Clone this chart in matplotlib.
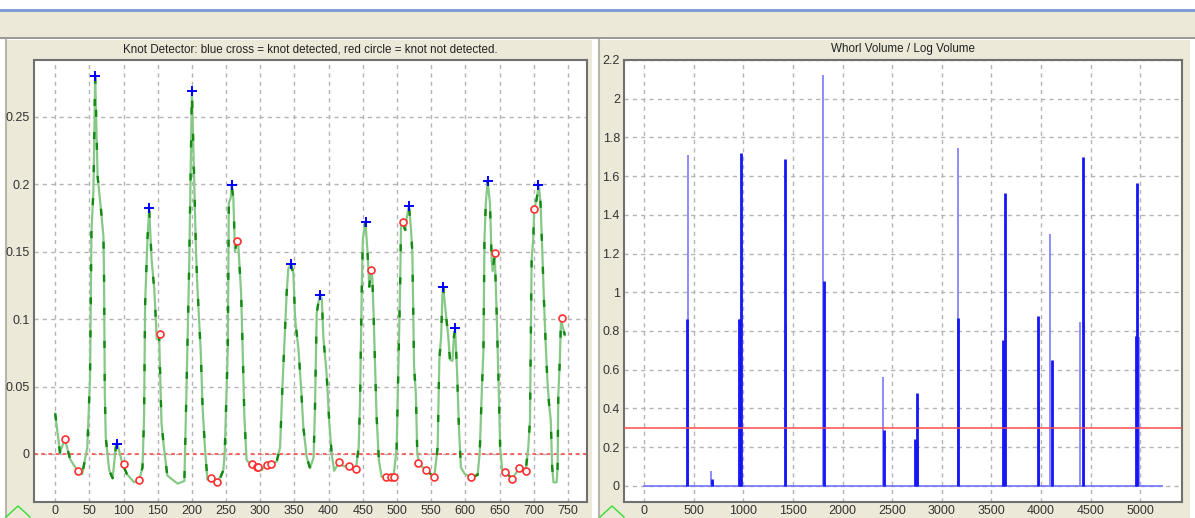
import matplotlib
matplotlib.use('Agg')
import matplotlib.pyplot as plt
from matplotlib.patches import Rectangle
from matplotlib.lines import Line2D

plt.rcParams['font.family'] = ['Liberation Sans', 'DejaVu Sans']

# ---- left chart: knot detector signal
sig_x = [0, 7, 14, 22, 32, 39.5, 47, 51, 53, 56, 58.5, 62, 67, 70.6, 71.5, 72.6, 74, 79, 84,
         88.7, 91, 98.5, 105, 115.5, 123, 127.7, 130, 131.6, 135, 137.5, 141, 145, 148.6, 152,
         155.5, 159, 164, 179, 189, 192.5, 196, 198.4, 200, 203, 206, 208, 213, 215.6, 219, 222.7,
         227.5, 236, 242, 246, 248, 252.5, 254, 257, 258, 260.6, 263, 265.6, 268, 272, 274, 276.8,
         280, 286.5, 294.6, 302, 309, 315, 324, 329, 332, 336, 338.6, 341, 344.6, 348.4, 351, 356,
         360, 363, 368, 372.8, 378, 380, 382.6, 385, 387.4, 390, 392.5, 397, 401, 404.4, 408,
         415.6, 421.5, 429.8, 440, 444, 446, 448.4, 450, 452, 454, 457, 459.5, 462, 464, 466, 470,
         473.5, 477.6, 482.5, 490, 495, 499.5, 502, 504.6, 506, 508, 512, 514.6, 517.5, 520.6,
         522.5, 525, 527.6, 529.7, 532.7, 542, 554.5, 559.5, 562, 564.6, 566.6, 567.7, 571.6, 575,
         577.5, 581, 583.4, 585, 588, 590.6, 593.5, 599.4, 610, 618, 621, 624, 626.5, 628, 630,
         632.6, 636, 638.5, 640, 643, 645.7, 649, 651, 654, 658, 668.6, 673, 680, 688.6, 692,
         694.6, 697, 699.5, 700.8, 704, 707.6, 710, 712.7, 715, 717.5, 720, 722.5, 725, 727, 729,
         733.6, 735, 736, 738.3, 740, 742.6, 745.6]
sig_y = [0.030, 0.001, 0.011, -0.004, -0.012, -0.015, 0.005, 0.057, 0.164, 0.196, 0.281, 0.206,
         0.181, 0.161, 0.129, 0.045, 0.012, -0.012, -0.018, 0.005, 0.0075, -0.0075, -0.015, -0.021,
         -0.019, -0.010, 0.027, 0.112, 0.159, 0.182, 0.144, 0.122, 0.085, 0.088, 0.023, 0.005,
         -0.016, -0.022, -0.020, 0.057, 0.139, 0.218, 0.269, 0.211, 0.150, 0.124, 0.075, 0.035,
         0.005, -0.019, -0.017, -0.0205, -0.017, -0.012, 0.001, 0.077, 0.186, 0.190, 0.1995,
         0.190, 0.150, 0.1575, 0.154, 0.119, 0.082, 0.027, -0.0045, -0.008, -0.011, -0.012,
         -0.0075, -0.0075, -0.0057, 0.005, 0.045, 0.090, 0.119, 0.137, 0.141, 0.134, 0.100,
         0.077, 0.047, 0.020, -0.0025, -0.0105, -0.0025, 0.033, 0.1045, 0.112, 0.1175, 0.115,
         0.085, 0.060, 0.023, 0.0005, -0.0125, -0.006, -0.009, -0.009, -0.0106, 0.005, 0.040,
         0.119, 0.159, 0.166, 0.171, 0.149, 0.124, 0.1365, 0.130, 0.100, 0.030, -0.0045, -0.017,
         -0.0168, -0.0168, -0.0168, 0.004, 0.062, 0.124, 0.171, 0.172, 0.166, 0.176, 0.184, 0.166,
         0.149, 0.065, 0.045, 0.0005, -0.0075, -0.012, -0.017, 0.005, 0.070, 0.087, 0.119, 0.123,
         0.104, 0.087, 0.070, 0.069, 0.087, 0.093, 0.060, 0.020, -0.010, -0.015, -0.0173, -0.0155,
         0.0005, 0.045, 0.077, 0.159, 0.186, 0.2025, 0.186, 0.144, 0.1355, 0.1488, 0.107, 0.045,
         0.004, -0.012, -0.0136, -0.018, -0.015, -0.0099, -0.011, 0.004, 0.025, 0.144, 0.161,
         0.1815, 0.188, 0.1995, 0.186, 0.149, 0.114, 0.082, 0.055, 0.037, 0.025, -0.0094, -0.021,
         -0.021, -0.0095, 0.043, 0.070, 0.1007, 0.094, 0.088]

knot_x = [58.5, 91, 137.5, 200, 258, 344.6, 387.4, 454, 517.5, 567.7, 585, 632.6, 707]
knot_y = [0.280, 0.0075, 0.182, 0.269, 0.1995, 0.141, 0.1175, 0.1716, 0.184, 0.1237, 0.093,
          0.2025, 0.1996]

miss_x = [14.6, 34, 100, 123, 153.5, 228, 236.4, 265.6, 287.5, 295, 297, 309.5, 315.8, 415.7,
          430, 440, 462, 484, 491, 495, 509, 531, 542.4, 554, 609, 643.3, 658, 668, 679, 688.6,
          700.7, 740.8]
miss_y = [0.011, -0.0126, -0.0074, -0.019, 0.0888, -0.0176, -0.0208, 0.1575, -0.0077, -0.010,
          -0.0095, -0.008, -0.0075, -0.006, -0.0087, -0.0109, 0.1365, -0.0168, -0.0168, -0.0168,
          0.1723, -0.007, -0.0119, -0.0168, -0.0173, 0.1489, -0.013, -0.0186, -0.0101, -0.0124,
          0.1815, 0.1007]

# ---- right chart: whorl volume / log volume spikes
spike_x = [434, 436, 670, 680, 955, 962, 972, 1416, 1428, 1805, 1812, 2411, 2413, 2730, 2745,
           2760, 3161, 3163, 3621, 3638, 3968, 3982, 4092, 4109, 4398, 4419, 4430, 4957, 4970,
           4993]
spike_y = [0.86, 1.71, 0.076, 0.035, 0.86, 0.86, 1.72, 1.69, 0.84, 2.12, 1.06, 0.563, 0.288,
           0.24, 0.477, 0.23, 1.747, 0.868, 0.753, 1.511, 0.877, 0.434, 1.299, 0.65, 0.848, 1.70,
           0.848, 0.775, 1.563, 0.77]
spike_dark = [1, 0, 0, 1, 1, 1, 1, 1, 0, 0, 1, 0, 1, 1, 1, 0, 0, 1, 1, 1, 1, 0, 0, 1, 0, 1, 0,
              1, 1, 0]
base_end = 5220
threshold = 0.3

W, H = 1195, 518
fig = plt.figure(figsize=(W / 100, H / 100), dpi=100, facecolor='white')

def rect(x, y, w, h, color):
    fig.add_artist(Rectangle((x / W, 1 - (y + h) / H), w / W, h / H,
                             transform=fig.transFigure, facecolor=color,
                             edgecolor='none', zorder=-5))

def vline(x, y0, y1, color, lw=1):
    fig.add_artist(Line2D([x / W, x / W], [1 - y0 / H, 1 - y1 / H],
                          transform=fig.transFigure, color=color, lw=lw, zorder=-4))

beige = '#ECE9D8'
# window chrome
rect(0, 9, W, 3, '#7F9DD6')
rect(0, 12, W, 25, beige)
rect(0, 37, W, 2, '#9A9A9A')
rect(5, 40, 587, 478, beige)
rect(598, 40, 592, 478, beige)
vline(6, 40, 518, '#B8B6A8', 1.5)
vline(599, 40, 518, '#B8B6A8', 1.5)

# green triangle icons
for x0 in [6, 600]:
    fig.add_artist(Line2D([x0 / W, (x0 + 12) / W, (x0 + 24) / W],
                          [1 - 517 / H, 1 - 506 / H, 1 - 517 / H],
                          transform=fig.transFigure, color='#33DD33', lw=1))

def setup(ax):
    ax.set_facecolor('white')
    ax.grid(True, color='#B4B4B4', linestyle=(0, (3, 3)), lw=1)
    ax.tick_params(length=0, labelsize=9, colors='#333333')
    ax.tick_params(axis='x', pad=2)
    ax.tick_params(axis='y', pad=3)
    for s in ax.spines.values():
        s.set_color('#707070')
        s.set_linewidth(1.5)

# left chart
ax1 = fig.add_axes([34 / W, 1 - 502 / H, 553 / W, 442 / H])
setup(ax1)
ax1.plot(sig_x, sig_y, color='#86C986', lw=1.6, zorder=3)
ax1.plot(sig_x, sig_y, color='#138A13', lw=1.7, dashes=(3, 11), zorder=3)
ax1.axhline(0, color='#FF5555', lw=1.3, linestyle=(0, (2, 2)), zorder=2)
ax1.plot(knot_x, knot_y, '+', color='#0000FF', ms=7, mew=1.4, zorder=5)
ax1.plot(miss_x, miss_y, 'o', mfc='white', mec='#FF3030', ms=5, mew=1.2, zorder=4)
ax1.set_xlim(-31, 778)
ax1.set_ylim(-0.0356, 0.292)
ax1.set_xticks(range(0, 751, 50))
ax1.set_yticks([0, 0.05, 0.1, 0.15, 0.2, 0.25])
ax1.set_yticklabels(['0', '0.05', '0.1', '0.15', '0.2', '0.25'])

# right chart
ax2 = fig.add_axes([624 / W, 1 - 502 / H, 558 / W, 442 / H])
setup(ax2)
ax2.plot([0, base_end], [0, 0], color='#7070FF', lw=1.2, zorder=3)
for x, y, d in zip(spike_x, spike_y, spike_dark):
    if d:
        ax2.vlines(x, 0, y, color='#1515F5', lw=2.0, zorder=4)
    else:
        ax2.vlines(x, 0, y, color='#8C8CFF', lw=1.4, zorder=3)
ax2.axhline(threshold, color='#FF4A4A', lw=1.1, zorder=5)
ax2.set_xlim(-205, 5422)
ax2.set_ylim(-0.084, 2.2)
ax2.set_xticks(range(0, 5001, 500))
ax2.set_yticks([0, 0.2, 0.4, 0.6, 0.8, 1, 1.2, 1.4, 1.6, 1.8, 2, 2.2])
ax2.set_yticklabels(['0', '0.2', '0.4', '0.6', '0.8', '1', '1.2', '1.4', '1.6', '1.8', '2', '2.2'])

fig.text(310 / W, 1 - 49 / H,
         'Knot Detector: blue cross = knot detected, red circle = knot not detected.',
         ha='center', va='center', fontsize=8.4, color='#222222')
fig.text(903 / W, 1 - 49 / H, 'Whorl Volume / Log Volume',
         ha='center', va='center', fontsize=8.4, color='#222222')

fig.savefig('out.png', dpi=100, facecolor='white')
